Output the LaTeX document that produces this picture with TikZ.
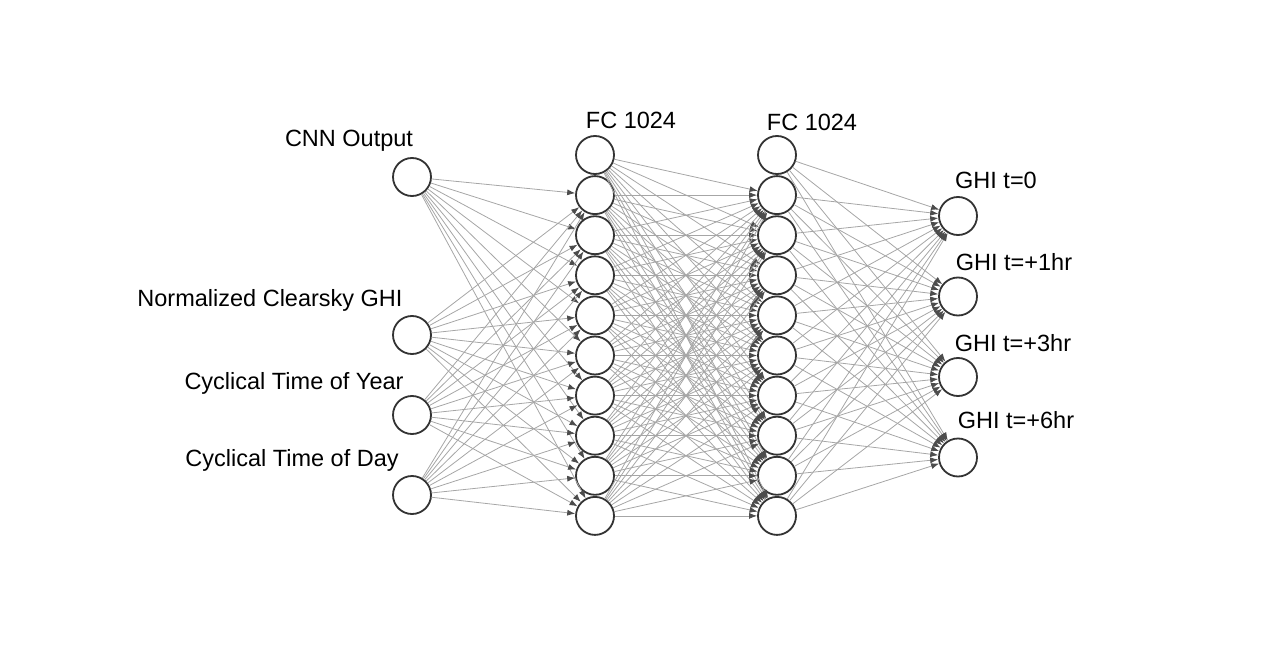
\documentclass[tikz,border=0pt]{standalone}
\usepackage{fontspec}
\setmainfont{Liberation Sans}
\usetikzlibrary{arrows.meta}
\begin{document}
\begin{tikzpicture}[x=1pt,y=-1pt,font=\fontsize{23.5}{28}\selectfont,
  neuron/.style={circle,draw=black!80,line width=1.8pt,fill=white,minimum size=38pt,inner sep=0pt},
  wire/.style={draw=black!35,line width=0.8pt,-{Latex[length=8pt,width=6pt,color=black!70]}},
  lbl/.style={anchor=base,inner sep=0pt}]
                \useasboundingbox (0,0) rectangle (1280,658);
                \foreach \y [count=\i] in {177,335,415,495}{\node[neuron] (in\i) at (412,\y) {};}
                \foreach \i in {0,...,9}
                {
                \node[neuron] (ha\i) at (595,{155+40.1*\i}) {};
                \node[neuron] (hb\i) at (777,{155+40.1*\i}) {};
                }
                \foreach \y [count=\i] in {216,296.5,377,457.5}{\node[neuron] (out\i) at (958,\y) {};}
                % wires, the top unit of each FC layer gets no input
                \foreach \i in {1,...,4}{\foreach \j in {1,...,9}{\draw[wire] (in\i) -- (ha\j);}}
                \foreach \i in {0,...,9}
                {
                \foreach \j in {1,...,9}{\draw[wire] (ha\i) -- (hb\j);}
                \foreach \j in {1,...,4}{\draw[wire] (hb\i) -- (out\j);}
                }
                \node[lbl] (cnn) at (349,147) {CNN Output};
                \node[lbl] (clearsky) at (270,306) {Normalized Clearsky GHI};
                \node[lbl] (year) at (294,389) {Cyclical Time of Year};
                \node[lbl] (day) at (292,466) {Cyclical Time of Day};
                \node[lbl] (fca) at (631,129) {FC 1024};
                \node[lbl] (fcb) at (812,131) {FC 1024};
                \node[lbl] (ghia) at (996,188) {GHI t=0};
                \node[lbl] (ghib) at (1014,270) {GHI t=+1hr};
                \node[lbl] (ghic) at (1013,351) {GHI t=+3hr};
                \node[lbl] (ghid) at (1016,428) {GHI t=+6hr};
            \end{tikzpicture}
\end{document}
